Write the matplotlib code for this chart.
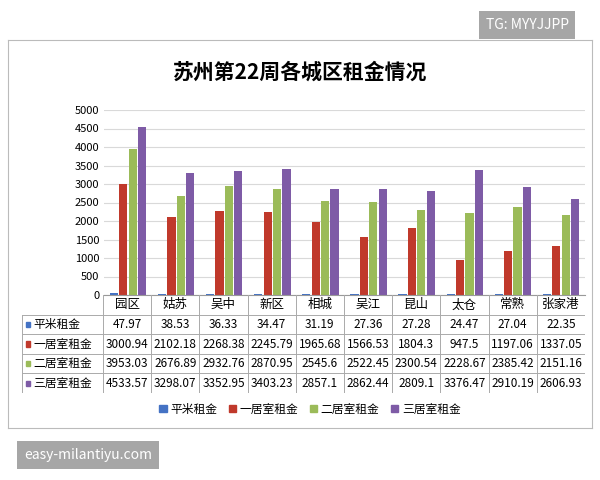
import matplotlib
matplotlib.use("Agg")
import matplotlib.pyplot as plt
from matplotlib.patches import Rectangle

plt.rcParams['font.family'] = ['Noto Sans CJK SC', 'DejaVu Sans']

cities = ["园区", "姑苏", "吴中", "新区", "相城", "吴江", "昆山", "太仓", "常熟", "张家港"]
series_names = ["平米租金", "一居室租金", "二居室租金", "三居室租金"]
per_sqm = [47.97, 38.53, 36.33, 34.47, 31.19, 27.36, 27.28, 24.47, 27.04, 22.35]
one_room = [3000.94, 2102.18, 2268.38, 2245.79, 1965.68, 1566.53, 1804.3, 947.5, 1197.06, 1337.05]
two_room = [3953.03, 2676.89, 2932.76, 2870.95, 2545.6, 2522.45, 2300.54, 2228.67, 2385.42, 2151.16]
three_room = [4533.57, 3298.07, 3352.95, 3403.23, 2857.1, 2862.44, 2809.1, 3376.47, 2910.19, 2606.93]
colors = ["#4472C4", "#C0392B", "#9BBB59", "#7E5BA6"]
series = [per_sqm, one_room, two_room, three_room]

W, H = 600, 480
fig = plt.figure(figsize=(6, 4.8), dpi=100)

def px(x0, y0, x1, y1):
    return [x0 / W, 1 - y1 / H, (x1 - x0) / W, (y1 - y0) / H]

# outer frame
frame = fig.add_axes(px(8, 40, 592, 428))
frame.set_xticks([]); frame.set_yticks([])
for s in frame.spines.values():
    s.set_color("#bbbbbb")

fig.text(300 / W, 1 - 72 / H, "苏州第22周各城区租金情况", ha="center", va="center",
         fontsize=15, fontweight="bold")

ax = fig.add_axes(px(104, 110, 585, 295))
n = len(cities)
w = 0.17
for k, (vals, c) in enumerate(zip(series, colors)):
    ax.bar([i + (k - 1.5) * w * 1.15 for i in range(n)], vals, w, color=c)
ax.set_xlim(-0.5, n - 0.5)
ax.set_ylim(0, 5000)
ax.set_yticks(range(0, 5001, 500))
ax.tick_params(axis="y", labelsize=8, length=0)
ax.set_xticks([])
ax.grid(axis="y", color="#d9d9d9", lw=0.8)
ax.set_axisbelow(True)
for s in ["top", "right", "left"]:
    ax.spines[s].set_visible(False)
ax.spines["bottom"].set_color("#999999")

# data table
tb = fig.add_axes(px(22, 295, 585, 393))
tb.set_xlim(-0.5 - 1.68, n - 0.5)
tb.set_ylim(5, 0)
tb.axis("off")
for i, c in enumerate(cities):
    tb.text(i, 0.5, c, ha="center", va="center", fontsize=9)
for r, (name, vals, c) in enumerate(zip(series_names, series, colors)):
    y = r + 1.5
    tb.add_patch(Rectangle((-2.1, y - 0.13), 0.09, 0.26, color=c))
    tb.text(-1.95, y, name, ha="left", va="center", fontsize=8.5)
    for i, v in enumerate(vals):
        tb.text(i, y, f"{v:g}", ha="center", va="center", fontsize=8.5)
lc = "#aaaaaa"
for yy in range(1, 6):
    tb.plot([-2.18, n - 0.5], [yy, yy], color=lc, lw=0.7)
for xx in [i - 0.5 for i in range(n + 1)]:
    tb.plot([xx, xx], [0, 5], color=lc, lw=0.7)
tb.plot([-2.18, -2.18], [1, 5], color=lc, lw=0.7)

# legend
handles = [Rectangle((0, 0), 1, 1, color=c) for c in colors]
fig.legend(handles, series_names, loc="center", bbox_to_anchor=(310 / W, 1 - 409 / H),
           ncol=4, frameon=False, fontsize=8.5, handlelength=0.6, handleheight=0.6,
           columnspacing=1.0, handletextpad=0.3)

# watermarks
fig.text(527 / W, 1 - 25 / H, "TG: MYYJJPP", ha="center", va="center", color="white",
         fontsize=10, bbox=dict(boxstyle="square,pad=0.5", fc="#a6a6a6", ec="none"))
fig.text(88 / W, 1 - 455 / H, "easy-milantiyu.com", ha="center", va="center", color="white",
         fontsize=10, bbox=dict(boxstyle="square,pad=0.5", fc="#a6a6a6", ec="none"))

fig.savefig("out.png", dpi=100)
